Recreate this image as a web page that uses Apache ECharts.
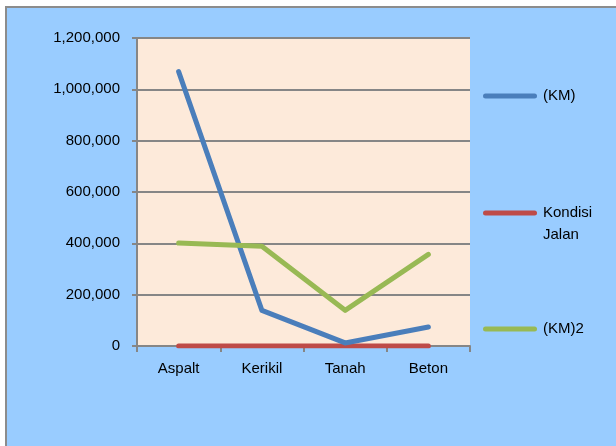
<!DOCTYPE html>
<html><head><meta charset="utf-8">
<script src="https://cdn.jsdelivr.net/npm/echarts@6/dist/echarts.min.js"></script>
<style>html,body{margin:0;padding:0;background:#fff}#c{width:616px;height:446px}</style>
</head><body><div id="c"></div>
<script>
const categories = ['Aspalt', 'Kerikil', 'Tanah', 'Beton'];
const seriesNames = ['(KM)', 'Kondisi Jalan', '(KM)2'];
const kmValues = [1069000, 139000, 12000, 74000];
const kondisiValues = [0, 0, 0, 0];
const km2Values = [401000, 389000, 139000, 357000];
const yTicks = { min: 0, max: 1200000, interval: 200000 };

const colors = ['#4A7EBB', '#BE4B48', '#98B954'];
const font = '"Liberation Sans", Arial, sans-serif';
const chart = echarts.init(document.getElementById('c'));
const dataArr = [kmValues, kondisiValues, km2Values];
const legendTops = [85, 180, 318];
const capsule = 'path://M2.5,0 L51.5,0 A2.5,2.5 0 0 1 51.5,5 L2.5,5 A2.5,2.5 0 0 1 2.5,0 Z';
chart.setOption({
  backgroundColor: '#ffffff',
  animation: false,
  graphic: [{ type: 'rect', shape: { x: 6, y: 7, width: 620, height: 450 },
    style: { fill: '#99CCFF', stroke: '#8c8c8c', lineWidth: 2 }, z: -10 }],
  grid: { left: 137, right: 146, top: 38, bottom: 100, show: true, backgroundColor: '#FDEADA', borderWidth: 0 },
  legend: seriesNames.map((n, i) => ({
    data: [n], orient: 'vertical', left: 483, top: legendTops[i], padding: 0,
    icon: capsule, itemWidth: 56, itemHeight: 5, itemGap: 0,
    textStyle: { fontFamily: font, fontSize: 15, color: '#000', lineHeight: 22 },
    formatter: name => name === 'Kondisi Jalan' ? ' \nKondisi\nJalan' : name,
    selectedMode: false
  })),
  xAxis: {
    type: 'category', data: categories, boundaryGap: true,
    axisLine: { lineStyle: { color: '#868686', width: 2 } },
    axisTick: { show: true, length: 6, lineStyle: { color: '#868686', width: 2 } },
    axisLabel: { fontFamily: font, fontSize: 15, color: '#000', margin: 15 }
  },
  yAxis: {
    type: 'value', min: yTicks.min, max: yTicks.max, interval: yTicks.interval,
    axisLine: { show: true, lineStyle: { color: '#868686', width: 2 } },
    axisTick: { show: true, length: 5, lineStyle: { color: '#868686', width: 2 } },
    splitLine: { lineStyle: { color: '#868686', width: 2 } },
    axisLabel: { fontFamily: font, fontSize: 15, color: '#000', margin: 17,
      formatter: v => v.toLocaleString('en-US') }
  },
  series: seriesNames.map((n, i) => ({
    name: n, type: 'line', data: dataArr[i], symbol: 'none', showSymbol: false,
    lineStyle: { color: colors[i], width: 5, cap: 'round', join: 'round' },
    itemStyle: { color: colors[i] }, z: i === 1 ? 1 : 2
  }))
});
</script></body></html>
